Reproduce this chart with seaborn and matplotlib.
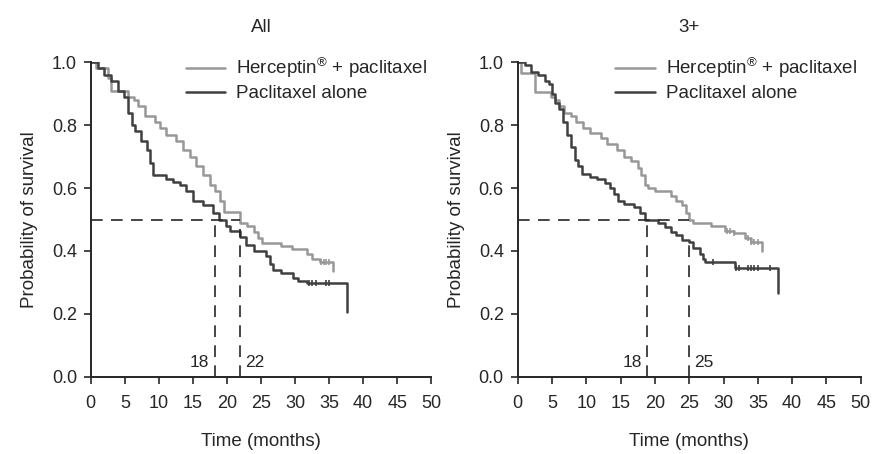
import numpy as np
import pandas as pd
import matplotlib
matplotlib.use("Agg")
import matplotlib.pyplot as plt
import seaborn as sns
from matplotlib.lines import Line2D

# Kaplan-Meier steps (time in months, survival probability)
h_all_t = [0, 0.8, 2.5, 3.0, 5.5, 6.3, 7.0, 8.0, 9.5, 10.2, 11.0, 12.5, 13.5, 14.5, 15.5, 16.5,
           17.5, 18.2, 19.0, 19.5, 21.9, 23.0, 24.0, 24.6, 25.2, 28.0, 29.5, 31.7, 32.5, 33.6, 35.6]
h_all_s = [1.0, 0.98, 0.95, 0.91, 0.89, 0.88, 0.86, 0.83, 0.81, 0.79, 0.77, 0.75, 0.72, 0.70, 0.67, 0.64,
           0.61, 0.59, 0.56, 0.525, 0.49, 0.48, 0.46, 0.44, 0.425, 0.415, 0.405, 0.39, 0.375, 0.366, 0.335]
p_all_t = [0, 1.0, 2.0, 3.0, 4.0, 4.9, 5.5, 6.0, 6.5, 7.3, 8.2, 8.7, 9.2, 11.1, 12.0, 13.1, 14.0, 15.0,
           16.5, 18.0, 18.8, 19.9, 20.5, 21.9, 22.8, 23.9, 25.8, 26.3, 26.8, 28.0, 29.7, 30.5, 31.7, 37.6]
p_all_s = [1.0, 0.98, 0.96, 0.94, 0.91, 0.89, 0.84, 0.80, 0.78, 0.75, 0.72, 0.68, 0.64, 0.63, 0.62, 0.61, 0.59, 0.56,
           0.545, 0.52, 0.50, 0.48, 0.465, 0.445, 0.42, 0.40, 0.385, 0.36, 0.34, 0.33, 0.315, 0.305, 0.298, 0.207]

h_3_t = [0, 0.5, 2.5, 4.9, 5.4, 6.0, 6.8, 7.8, 8.5, 9.5, 10.5, 12.2, 13.0, 14.5, 15.5, 16.5, 17.5, 18.0,
         18.6, 19.0, 20.0, 22.4, 23.0, 24.0, 24.5, 25.0, 25.5, 28.2, 30.2, 31.5, 33.1, 34.0, 35.6]
h_3_s = [1.0, 0.965, 0.906, 0.89, 0.88, 0.86, 0.84, 0.83, 0.81, 0.79, 0.775, 0.76, 0.74, 0.72, 0.70, 0.685, 0.665, 0.64,
         0.61, 0.60, 0.59, 0.575, 0.56, 0.545, 0.52, 0.50, 0.49, 0.48, 0.465, 0.457, 0.44, 0.43, 0.40]
p_3_t = [0, 1.0, 2.0, 3.0, 4.0, 4.5, 5.0, 5.5, 6.0, 6.6, 7.2, 7.8, 8.3, 8.8, 9.3, 10.5, 11.5, 12.7, 13.5, 14.0,
         14.6, 15.5, 17.0, 17.8, 18.5, 20.5, 21.5, 22.4, 23.0, 24.0, 25.0, 25.5, 26.5, 27.0, 27.3, 31.6, 37.9]
p_3_s = [1.0, 0.99, 0.97, 0.96, 0.94, 0.93, 0.90, 0.87, 0.85, 0.81, 0.77, 0.73, 0.69, 0.67, 0.645, 0.635, 0.63, 0.615, 0.60, 0.58,
         0.56, 0.55, 0.54, 0.52, 0.50, 0.49, 0.475, 0.46, 0.45, 0.435, 0.43, 0.41, 0.39, 0.375, 0.366, 0.345, 0.266]

# censored observations (tick marks)
h_all_cens = [33.8, 34.2, 34.6, 35.0]
p_all_cens = [32.0, 32.5, 33.0, 34.5, 35.0]
h_3_cens = [30.5, 31.0, 31.5, 33.5, 34.0, 34.5, 35.0]
p_3_cens = [28.5, 31.8, 32.2, 33.5, 34.0, 34.4, 35.0, 36.8]

titles = ["All", "3+"]
medians = [(18, 22), (18, 25)]
median_x = [(18.2, 21.9), (18.9, 24.9)]
median_y = [(0.50, 0.47), (0.50, 0.43)]
ticks_x = [0, 5, 10, 15, 20, 25, 30, 35, 40, 45, 50]
ticks_y = [0.0, 0.2, 0.4, 0.6, 0.8, 1.0]

LIGHT = "#989898"
DARK = "#404040"
INK = "#262626"

sns.set_theme(style="white")
plt.rcParams["font.family"] = ["Liberation Sans", "DejaVu Sans"]
plt.rcParams["text.color"] = INK
plt.rcParams["axes.labelcolor"] = INK
plt.rcParams["xtick.color"] = INK
plt.rcParams["ytick.color"] = INK

fig = plt.figure(figsize=(8.73, 4.54), dpi=100)
ax1 = fig.add_axes([0.104, 0.170, 0.390, 0.693])
ax2 = fig.add_axes([0.593, 0.170, 0.393, 0.693])

panels = [
    (ax1, h_all_t, h_all_s, p_all_t, p_all_s, h_all_cens, p_all_cens),
    (ax2, h_3_t, h_3_s, p_3_t, p_3_s, h_3_cens, p_3_cens),
]


def step_value(t, s, x):
    idx = np.searchsorted(t, x, side="right") - 1
    return np.array(s)[idx]


for i, (ax, ht, hs, pt, ps, hc, pc) in enumerate(panels):
    curves = pd.concat([
        pd.DataFrame({"time": ht, "surv": hs, "arm": "h"}),
        pd.DataFrame({"time": pt, "surv": ps, "arm": "p"}),
    ])
    sns.lineplot(data=curves, x="time", y="surv", hue="arm", palette={"h": LIGHT, "p": DARK},
                 estimator=None, sort=False, drawstyle="steps-post", linewidth=1.8,
                 legend=False, ax=ax)
    ax.plot(hc, step_value(ht, hs, hc), linestyle="none", marker="|", ms=5, mew=1.2, color=LIGHT)
    ax.plot(pc, step_value(pt, ps, pc), linestyle="none", marker="|", ms=5, mew=1.2, color=DARK)

    # median survival guides
    mx1, mx2 = median_x[i]
    my1, my2 = median_y[i]
    dash = dict(color=INK, lw=1.2, dashes=(7, 5))
    ax.plot([0, mx2], [0.5, 0.5], **dash)
    ax.plot([mx1, mx1], [0.0, my1], **dash)
    ax.plot([mx2, mx2], [0.0, my2], **dash)
    ax.text(mx1 - 0.8, 0.045, str(medians[i][0]), ha="right", va="center", fontsize=12.5)
    ax.text(mx2 + 0.8, 0.045, str(medians[i][1]), ha="left", va="center", fontsize=12.5)

    ax.set_xlim(0, 50)
    ax.set_ylim(0, 1.0)
    ax.set_xticks(ticks_x)
    ax.set_yticks(ticks_y)
    ax.set_yticklabels([f"{v:.1f}" for v in ticks_y])
    ax.margins(0)
    ax.set_xlabel("Time (months)", fontsize=13.5, labelpad=15)
    ax.set_ylabel("Probability of survival", fontsize=13.5, labelpad=10)
    ax.set_title(titles[i], fontsize=13.5, pad=22)
    for side in ["top", "right"]:
        ax.spines[side].set_visible(False)
    for side in ["left", "bottom"]:
        ax.spines[side].set_color(INK)
        ax.spines[side].set_linewidth(1.4)
        ax.spines[side].set_clip_on(False)
    ax.tick_params(axis="both", which="major", direction="out", length=5, width=1.2,
                   labelsize=13, bottom=True, left=True)
    ax.tick_params(axis="x", pad=8)
    ax.tick_params(axis="y", pad=5)

    handles = [Line2D([], [], color=LIGHT, lw=1.8), Line2D([], [], color=DARK, lw=1.8)]
    ax.legend(handles, ["Herceptin$^{\\mathregular{®}}$ + paclitaxel", "Paclitaxel alone"],
              loc="upper right", bbox_to_anchor=(1.01, 1.045), frameon=False, fontsize=13.5,
              handlelength=2.1, handletextpad=0.6, labelspacing=0.25, borderaxespad=0)

fig.savefig("out.png", dpi=100)
